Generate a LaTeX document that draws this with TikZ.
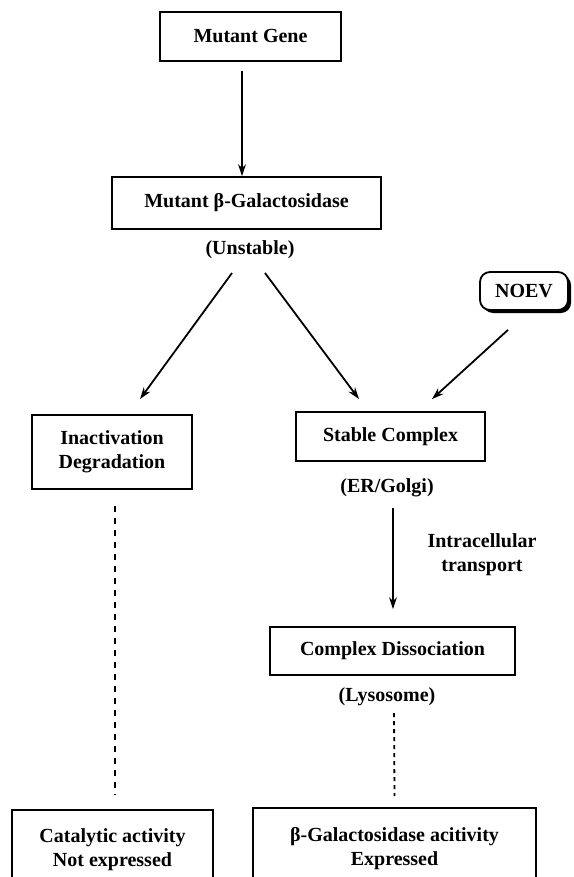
\documentclass[tikz,border=0pt]{standalone}
\usepackage{fontspec}
\setmainfont{Liberation Serif}
\usetikzlibrary{arrows.meta,shadows}

\begin{document}
\begin{tikzpicture}[x=0.5pt,y=-0.5pt,
    every node/.style={font=\bfseries},
    caja/.style={draw,line width=0.9pt,align=center,inner sep=0pt},
    flecha/.style={line width=0.9pt,-{Stealth[length=6pt,width=4pt]}},
    punteada/.style={line width=0.9pt,dash pattern=on 3pt off 3pt}]
  \clip[use as bounding box] (0,0) rectangle (573,877);

  % Cajas
  \node at (250.5,36.5) [caja,minimum width=90.5pt,minimum height=24.5pt] (gen) {Mutant Gene};
  \node at (246.5,203) [caja,minimum width=134.5pt,minimum height=26pt] (gal) {Mutant β-Galactosidase};
  \node at (112,452) [caja,minimum width=80pt,minimum height=37pt] (inact) {Inactivation\\Degradation};
  \node at (390.5,436.5) [caja,minimum width=94.5pt,minimum height=24.5pt] (estable) {Stable Complex};
  \node at (524,291) [caja,rounded corners=5pt,fill=white,minimum width=44pt,minimum height=19pt,
    drop shadow={shadow xshift=1.5pt,shadow yshift=-1.5pt,fill=black,opacity=1}] (noev) {NOEV};
  \node at (392.5,651) [caja,minimum width=122.5pt,minimum height=24pt] (disoc) {Complex Dissociation};
  \node at (112.5,850) [caja,minimum width=100.5pt,minimum height=40pt] (cat) {Catalytic activity\\Not expressed};
  \node at (394.5,849) [caja,minimum width=141.5pt,minimum height=41pt] (expr) {β-Galactosidase acitivity\\Expressed};

  % Etiquetas
  \node at (250,250) (uns) {(Unstable)};
  \node at (387,488) (erg) {(ER/Golgi)};
  \node at (482,555) [align=center] (trans) {Intracellular\\transport};
  \node at (387,697) (lys) {(Lysosome)};

  % Flechas
  \draw[flecha] ([shift={(-8.5,9)}]gen.south) -- ([shift={(-4.5,0)}]gal.north);
  \draw[flecha] ([shift={(-18,23)}]uns.center) -- ([shift={(28,-15)}]inact.north);
  \draw[flecha] ([shift={(15,23)}]uns.center) -- ([shift={(-31.5,-12)}]estable.north);
  \draw[flecha] ([shift={(-16,19)}]noev.south) -- ([shift={(41.5,-12)}]estable.north);
  \draw[flecha] ([shift={(6,20)}]erg.center) -- ([shift={(0.5,-17)}]disoc.north);

  % Lineas punteadas
  \draw[punteada] ([shift={(3,16)}]inact.south) -- ([shift={(2.5,-15)}]cat.north);
  \draw[punteada,dash pattern=on 2pt off 2pt] ([shift={(7,16)}]lys.center) -- ([shift={(0,-11)}]expr.north);
\end{tikzpicture}
\end{document}
